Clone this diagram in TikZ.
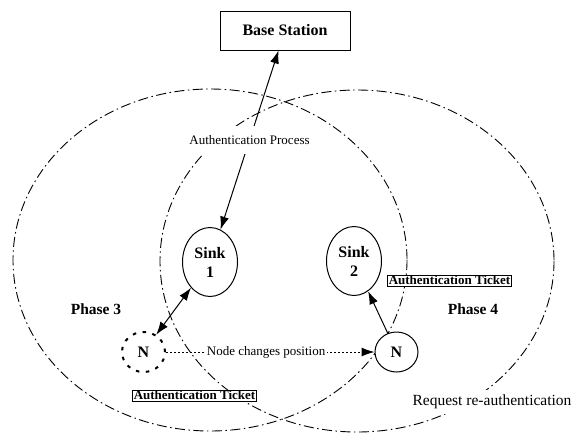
\documentclass[tikz,border=0pt]{standalone}
\usepackage{fontspec}
\setmainfont{Liberation Serif}
\usetikzlibrary{arrows.meta,shapes.geometric}
\begin{document}
\begin{tikzpicture}[x=1pt,y=-1pt,
  zone/.style={line width=0.9pt,dash pattern=on 10pt off 3.5pt on 1.5pt off 3.5pt},
  sinknode/.style={ellipse,draw,line width=1pt,fill=white,inner sep=0pt,
    minimum width=55pt,minimum height=69pt,font=\fontsize{16}{19}\selectfont\bfseries,align=center},
  nnode/.style={ellipse,draw,line width=1pt,fill=white,inner sep=0pt,
    minimum width=43pt,minimum height=40pt,font=\fontsize{16}{19}\selectfont\bfseries},
  ticket/.style={draw,line width=0.8pt,fill=white,inner xsep=1.5pt,inner ysep=1pt,
    font=\fontsize{13}{15}\selectfont\bfseries},
  phase/.style={font=\fontsize{15.5}{18}\selectfont\bfseries},
  plain/.style={font=\fontsize{13}{15}\selectfont},
  tip/.style={-{Latex[length=13pt,width=9pt]}},
  twotip/.style={{Latex[length=13pt,width=9pt]}-{Latex[length=13pt,width=9pt]}},
]
\useasboundingbox (0,0) rectangle (575,432);

% coverage zones of the two sinks
\draw[zone] (210,260) ellipse [x radius=197, y radius=171];
\draw[zone] (357,261) ellipse [x radius=197, y radius=171];

% base station
\node[draw,line width=1pt,fill=white,minimum width=130pt,minimum height=39pt,
  font=\fontsize{16}{19}\selectfont\bfseries] (bs) at (285,30.5) {Base Station};

% sinks and the mobile node
\node[sinknode] (sink1) at (210,262) {Sink\\1};
\node[sinknode] (sink2) at (354,261) {Sink\\2};
\node[nnode,dash pattern=on 3.5pt off 6.5pt,line width=2pt] (n1) at (143.5,352) {N};
\node[nnode] (n2) at (396.5,352) {N};

% authentication with the base station
\draw[twotip,line width=1pt] (sink1) -- node[pos=0.5,fill=white,plain,inner xsep=2pt,inner ysep=9pt] {Authentication Process} (bs);

% node moves from sink 1 to sink 2
\draw[twotip,line width=1pt] (sink1) -- (n1);
\draw[tip,line width=1pt,dash pattern=on 1.5pt off 2.5pt] (n1) -- node[pos=0.48,fill=white,plain,inner sep=2pt] {Node changes position} (n2);
\draw[tip,line width=1pt] (n2) -- (sink2);

% tickets
\node[ticket] (t1) at (194.5,395.5) {Authentication Ticket};
\node[ticket] (t2) at (449.5,280.5) {Authentication Ticket};

% labels
\node[phase] (p3) at (96,309) {Phase 3};
\node[phase] (p4) at (473,309) {Phase 4};
\node[fill=white,inner xsep=1pt,inner ysep=5pt,font=\fontsize{15.5}{18}\selectfont] (req) at (492,402) {Request re-authentication};
\end{tikzpicture}
\end{document}
